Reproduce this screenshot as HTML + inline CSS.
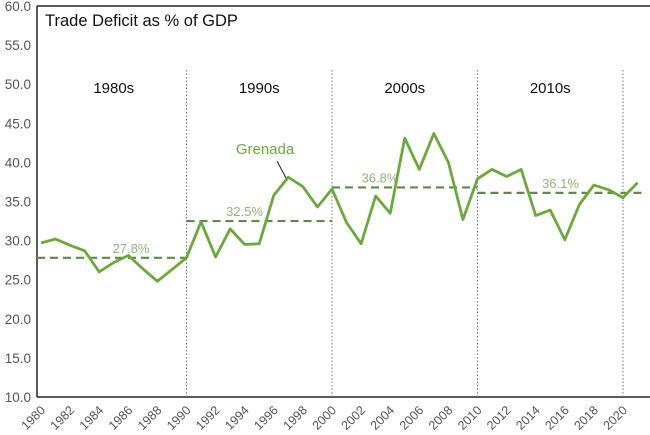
<!DOCTYPE html>
<html><head><meta charset="utf-8"><style>
body{margin:0;background:#fff;}
svg{display:block;font-family:"Liberation Sans",Arial,sans-serif;}
</style></head><body>
<svg id="chart" width="650" height="435">
<rect x="0" y="0" width="650" height="435" fill="#fff"/>
<line x1="37" y1="6" x2="650" y2="6" stroke="#222" stroke-width="1.5"/>
<line x1="37" y1="6" x2="37" y2="397" stroke="#222" stroke-width="1.5"/>
<line x1="37" y1="397" x2="650" y2="397" stroke="#222" stroke-width="1.5"/>
<text x="45" y="26" font-size="16.5" fill="#111">Trade Deficit as % of GDP</text>
<g id="g"></g>
</svg>
<script>
const years=[1980,1981,1982,1983,1984,1985,1986,1987,1988,1989,1990,1991,1992,1993,1994,1995,1996,1997,1998,1999,2000,2001,2002,2003,2004,2005,2006,2007,2008,2009,2010,2011,2012,2013,2014,2015,2016,2017,2018,2019,2020,2021];
const values=[29.7,30.2,29.4,28.7,26.0,27.2,28.1,26.4,24.8,26.3,27.8,32.4,27.9,31.5,29.5,29.6,35.8,38.1,36.9,34.3,36.6,32.3,29.6,35.7,33.5,43.1,39.1,43.7,40.0,32.7,37.9,39.1,38.2,39.1,33.2,33.9,30.1,34.6,37.1,36.5,35.5,37.4];
const decades=["1980s","1990s","2000s","2010s"];
const decadeStart=[1980,1990,2000,2010];
const decadeEnd=[1990,2000,2010,2021.3];
const decadeAvg=[27.8,32.5,36.8,36.1];
const avgLabels=["27.8%","32.5%","36.8%","36.1%"];
const yTicks=[10,15,20,25,30,35,40,45,50,55,60];
const xTicks=[1980,1982,1984,1986,1988,1990,1992,1994,1996,1998,2000,2002,2004,2006,2008,2010,2012,2014,2016,2018,2020];
const dividers=[1990,2000,2010,2020];
const labelOffsets=[90,58,48,83];
const X=y=>41+(y-1980)*14.55;
const Y=v=>397-(v-10)*7.82;
const g=document.getElementById('g');
const NS='http://www.w3.org/2000/svg';
function mk(t,a,p){const e=document.createElementNS(NS,t);for(const k in a)e.setAttribute(k,a[k]);(p||g).appendChild(e);return e;}
yTicks.forEach(v=>{const e=mk('text',{x:31,y:Y(v)+5,'font-size':13.5,fill:'#555','text-anchor':'end'});e.textContent=v.toFixed(1);

});
xTicks.forEach(t=>{const x=X(t);const e=mk('text',{x:x+5,y:411,'font-size':12.5,fill:'#555','text-anchor':'end',transform:`rotate(-45 ${x+5} 411)`});e.textContent=t;

});
dividers.forEach(d=>{const e=mk('line',{x1:X(d),y1:70,x2:X(d),y2:397,stroke:'#777','stroke-width':1,'stroke-dasharray':'1.5,2'});

});
decades.forEach((d,i)=>{const e=mk('text',{x:(X(decadeStart[i])+X(Math.min(decadeEnd[i],decadeStart[i]+10)))/2,y:93,'font-size':15,fill:'#111','text-anchor':'middle'});e.textContent=d;

});
decadeAvg.forEach((v,i)=>{const x1=i==0?37:X(decadeStart[i]);const l=mk('line',{x1:x1,y1:Y(v),x2:X(decadeEnd[i]),y2:Y(v),stroke:'#5e8a4a','stroke-width':2.2,'stroke-dasharray':'8,5'});


const t=mk('text',{x:X(decadeStart[i])+labelOffsets[i],y:Y(v)-5,'font-size':13,fill:'#8fb57a','text-anchor':'middle'});t.textContent=avgLabels[i];

});
const p=mk('polyline',{points:years.map((y,i)=>X(y)+','+Y(values[i])).join(' '),fill:'none',stroke:'#6aaa3a','stroke-width':2.8,'stroke-linejoin':'round'});


const lab=mk('text',{x:265,y:154,'font-size':15,fill:'#6aaa3a','text-anchor':'middle'});lab.textContent='Grenada';


const ld=mk('line',{x1:277,y1:161,x2:286,y2:178,stroke:'#222','stroke-width':1});


</script>
</body></html>
